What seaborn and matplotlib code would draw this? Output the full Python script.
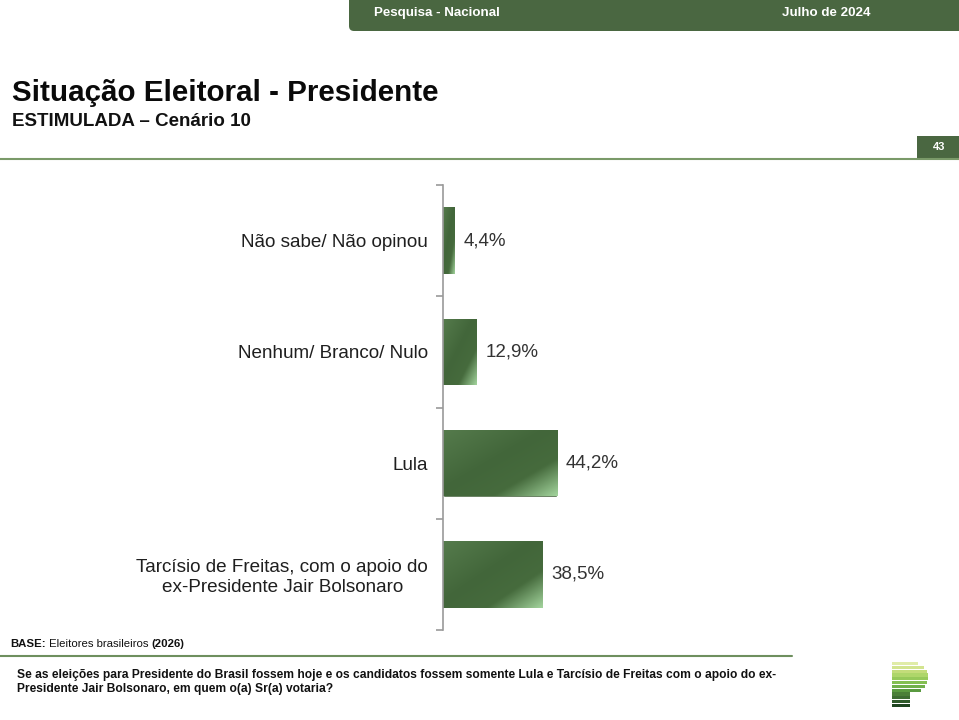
import matplotlib
matplotlib.use('Agg')
import matplotlib.pyplot as plt
from matplotlib import font_manager
from matplotlib.colors import LinearSegmentedColormap
from matplotlib.lines import Line2D
from matplotlib.patches import Rectangle, FancyBboxPatch
from matplotlib.transforms import IdentityTransform
import numpy as np
import pandas as pd
import seaborn as sns

# --- dados ---
categories = ['Não sabe/ Não opinou', 'Nenhum/ Branco/ Nulo', 'Lula',
              'Tarcísio de Freitas, com o apoio do\nex-Presidente Jair Bolsonaro']
values = [4.4, 12.9, 44.2, 38.5]
value_labels = ['4,4%', '12,9%', '44,2%', '38,5%']

DARK = '#4a6741'
W, H = 959, 720

sns.set_theme(style='white')
installed = {f.name for f in font_manager.fontManager.ttflist}
NARROW = 'Liberation Sans Narrow' if 'Liberation Sans Narrow' in installed else 'Liberation Sans'
plt.rcParams['font.family'] = ['Liberation Sans', 'DejaVu Sans']


def fx(x):
    return x / W


def fy(y):
    return 1 - y / H


fig = plt.figure(figsize=(W / 100, H / 100), dpi=100)
fig.patch.set_facecolor('white')

# --- grafico ---
ax = fig.add_axes([fx(443), fy(630), fx(500), 445 / H])
df = pd.DataFrame({'categoria': categories, 'valor': values})
sns.barplot(data=df, x='valor', y='categoria', orient='h', color=DARK,
            width=0.6, saturation=1, errorbar=None, ax=ax)

# gradiente diagonal nas barras
cmap = LinearSegmentedColormap.from_list(
    'barra', [(0, '#557b4c'), (0.45, '#42663a'), (0.72, '#466b3d'), (1, '#a3d49d')])
u = np.linspace(0, 1, 200)
grad = (u[None, :] + u[:, None]) / 2
for bar in ax.patches:
    x0, y0 = bar.get_x(), bar.get_y()
    x1, y1 = x0 + bar.get_width(), y0 + bar.get_height()
    im = ax.imshow(grad, cmap=cmap, extent=(x0, x1, y1, y0), origin='upper',
                   aspect='auto', interpolation='bicubic', zorder=bar.get_zorder() + 0.1)
    im.set_clip_path(bar)

ax.bar_label(ax.containers[0], labels=value_labels, padding=6.5,
             fontsize=13.5, color='#333333')

ax.set_xlim(0, 500 / 2.58)
ax.set_ylim(3.5, -0.5)
ax.set_xlabel('')
ax.set_ylabel('')
ax.set_xticks([])
ax.set_yticks(range(len(categories)), categories)
ax.set_yticks(np.arange(-0.5, len(categories), 1), minor=True)
ax.tick_params(axis='y', which='major', left=False, length=0, pad=10.8,
               labelsize=13.6, labelcolor='#1f1f1f')
ax.tick_params(axis='y', which='minor', left=True, length=5, width=1.2,
               color='#9a9a9a', direction='out')
for lbl in ax.get_yticklabels():
    lbl.set_multialignment('center')
for s in ['top', 'right', 'bottom']:
    ax.spines[s].set_visible(False)
ax.spines['left'].set_color('#9a9a9a')
ax.spines['left'].set_linewidth(1.2)
ax.set_facecolor('none')

# --- cabecalho ---
fig.add_artist(FancyBboxPatch((349, H - 31), 640, 60,
                              boxstyle='round,pad=0,rounding_size=5',
                              transform=IdentityTransform(), color=DARK, lw=0))
fig.text(fx(374), fy(13), 'Pesquisa - Nacional', fontsize=9.6, fontweight='bold',
         color='white', va='center', family=NARROW)
fig.text(fx(782), fy(13), 'Julho de 2024', fontsize=9.6, fontweight='bold',
         color='white', va='center', family=NARROW)

fig.text(fx(12), fy(101), 'Situação Eleitoral - Presidente', fontsize=21.3,
         fontweight='bold', va='baseline', color='#0a0a0a')
fig.text(fx(12), fy(126), 'ESTIMULADA – Cenário 10', fontsize=13.5,
         fontweight='bold', va='baseline', color='#111111')
fig.add_artist(Line2D([0, 1], [fy(159)] * 2, transform=fig.transFigure,
                      color='#7a9a69', lw=1.5))
fig.add_artist(Rectangle((fx(917), fy(159)), fx(42), 23 / H,
                         transform=fig.transFigure, color=DARK, lw=0))
fig.text(fx(939), fy(147.5), '43', fontsize=8, fontweight='bold', color='white',
         ha='center', va='center')

# --- rodape ---
renderer = fig.canvas.get_renderer()
x = fx(10)
for txt, wgt in [('BASE:', 'bold'), (' Eleitores brasileiros ', 'normal'), ('(2026)', 'bold')]:
    t = fig.text(x, fy(644), txt, fontsize=8.2, fontweight=wgt, va='center', color='#111111')
    x += t.get_window_extent(renderer).width / W
fig.add_artist(Line2D([0, fx(792)], [fy(656)] * 2, transform=fig.transFigure,
                      color='#6e8f5e', lw=1.5))
fig.text(fx(17), fy(675), 'Se as eleições para Presidente do Brasil fossem hoje e os candidatos '
         'fossem somente Lula e Tarcísio de Freitas com o apoio do ex-',
         fontsize=8.68, fontweight='bold', va='center', color='#111111')
fig.text(fx(17), fy(689), 'Presidente Jair Bolsonaro, em quem o(a) Sr(a) votaria?',
         fontsize=8.68, fontweight='bold', va='center', color='#111111')

# logo
logo_colors = ['#e0eca8', '#d3e48f', '#c3dc7a', '#aed66a', '#96c95a', '#84bf52',
               '#71b04a', '#5a9a40', '#4a7f38', '#3d6c32', '#2f5a2a', '#1f4520']
logo_widths = [26, 32, 35, 36, 36, 35, 33, 29, 18, 18, 18, 18]
for i, (c, w) in enumerate(zip(logo_colors, logo_widths)):
    top = 662 + i * 3.8
    fig.add_artist(Rectangle((fx(892), fy(top + 3.2)), fx(w), 3.2 / H,
                             transform=fig.transFigure, color=c, lw=0))

fig.savefig('out.png', dpi=100)
